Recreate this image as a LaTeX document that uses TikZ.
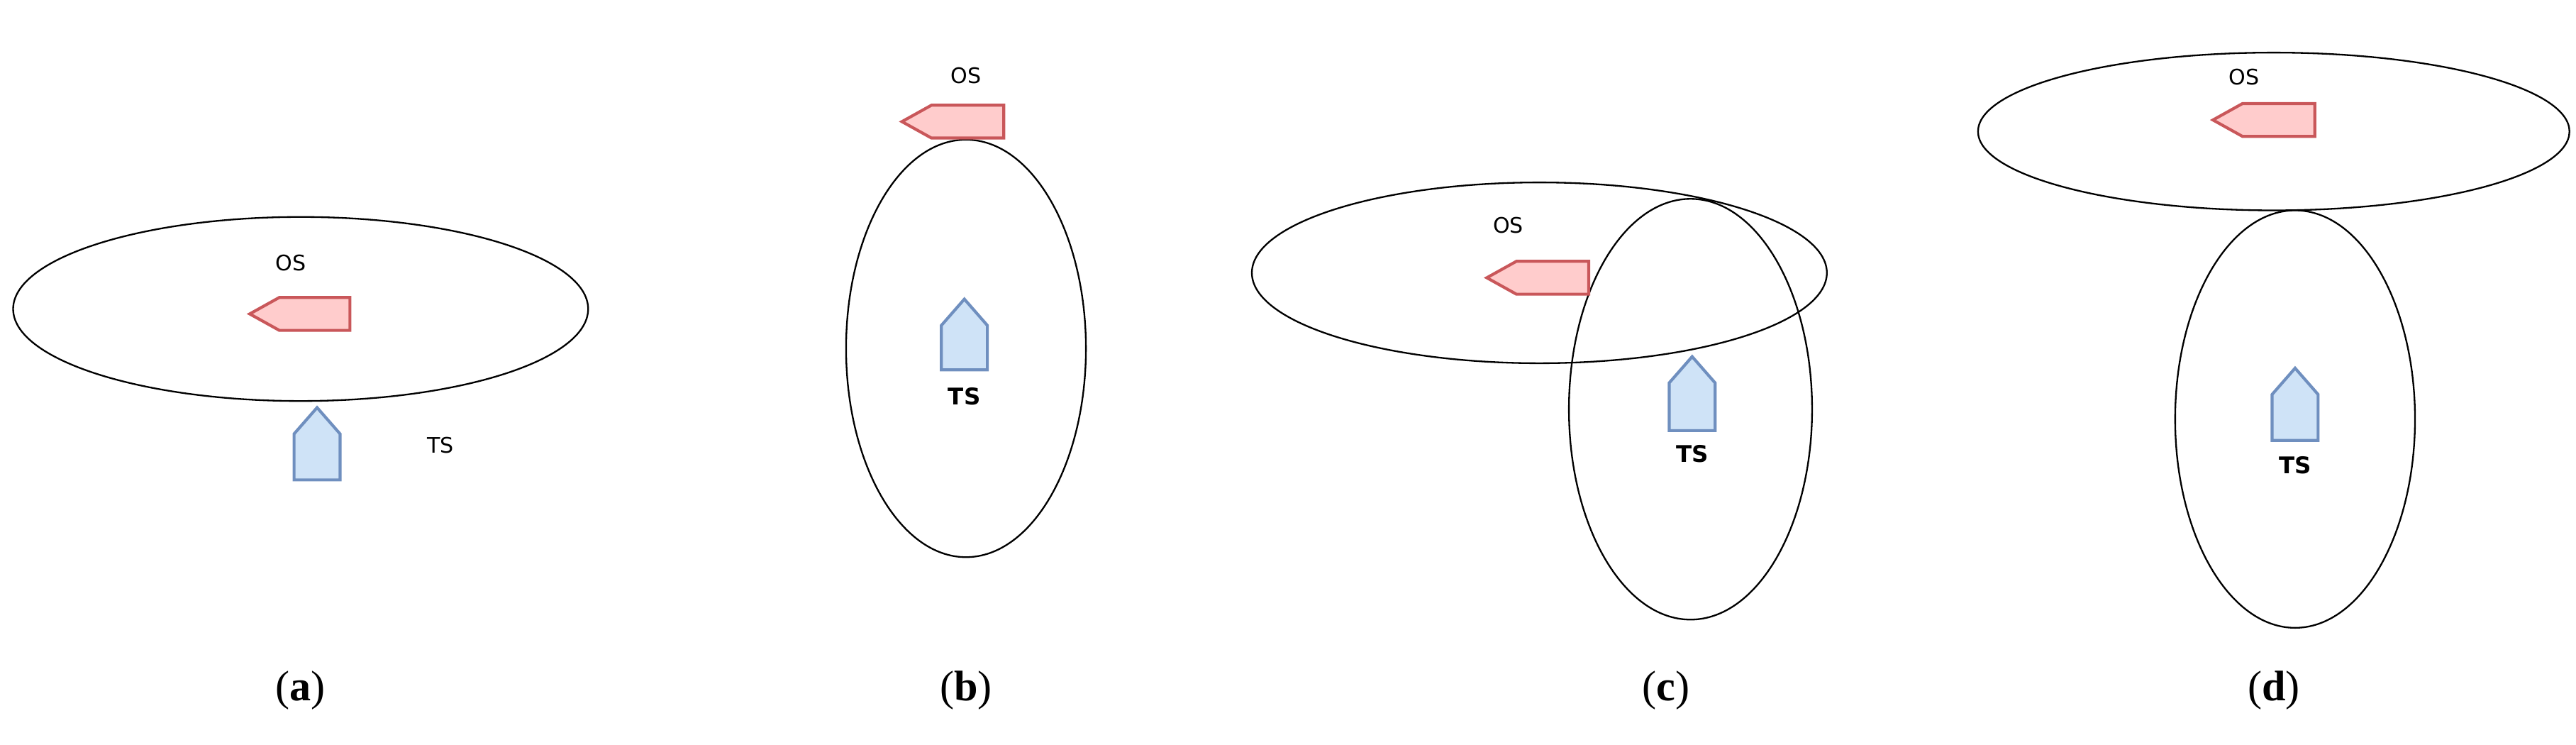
\documentclass[tikz,border=0pt]{standalone}
\usepackage{fontspec}
\setmainfont{Liberation Serif}
\newfontfamily\lblfont{DejaVu Sans}
\definecolor{osfill}{HTML}{FFCCCC}
\definecolor{osdraw}{HTML}{C9575A}
\definecolor{tsfill}{HTML}{CFE3F7}
\definecolor{tsdraw}{HTML}{6F8FBF}
\tikzset{
  zone/.style={draw=black, line width=1pt},
  osboat/.style={draw=osdraw, fill=osfill, line width=1.8pt, line join=miter},
  tsboat/.style={draw=tsdraw, fill=tsfill, line width=1.8pt, line join=miter},
  shiplbl/.style={font=\lblfont\fontsize{13}{13}\selectfont},
  shiplblb/.style={font=\lblfont\bfseries\fontsize{14}{14}\selectfont},
  caption/.style={font=\fontsize{26}{26}\selectfont}
}
\newcommand\drawos[3]{\draw[osboat] (#1,#2) -- (#1+18,#2-10) -- (#3,#2-10) -- (#3,#2+10) -- (#1+18,#2+10) -- cycle;}
\newcommand\drawts[3]{\draw[tsboat] (#1,#2) -- (#1+14,#2+16) -- (#1+14,#3) -- (#1-14,#3) -- (#1-14,#2+16) -- cycle;}
\begin{document}
\begin{tikzpicture}[x=1pt,y=-1pt]
\useasboundingbox (0,0) rectangle (1568,453);
\fill[white] (0,0) rectangle (1568,453);
% (a)
\draw[zone] (183,188) ellipse [x radius=175, y radius=56];
\node[shiplbl] (osa) at (177,160) {OS};
\drawos{152}{191}{213}
\drawts{193}{248}{292}
\node[shiplbl] (tsa) at (268,271) {TS};
\node[caption] (capa) at (183,420) {(\textbf{a})};
% (b)
\draw[zone] (588,212) ellipse [x radius=73, y radius=127];
\node[shiplbl] (osb) at (588,46) {OS};
\drawos{549}{74}{611}
\drawts{587}{182}{225}
\node[shiplblb] (tsb) at (587,241) {TS};
\node[caption] (capb) at (588,420) {(\textbf{b})};
% (c)
\draw[zone] (937,166) ellipse [x radius=175, y radius=55];
\draw[zone] (1029,249) ellipse [x radius=74, y radius=128];
\node[shiplbl] (osc) at (918,137) {OS};
\drawos{905}{169}{967}
\drawts{1030}{217}{262}
\node[shiplblb] (tsc) at (1030,276) {TS};
\node[caption] (capc) at (1014,420) {(\textbf{c})};
% (d)
\draw[zone] (1384,80) ellipse [x radius=180, y radius=48];
\draw[zone] (1397,255) ellipse [x radius=73, y radius=127];
\node[shiplbl] (osd) at (1366,47) {OS};
\drawos{1347}{73}{1409}
\drawts{1397}{224}{268}
\node[shiplblb] (tsd) at (1397,283) {TS};
\node[caption] (capd) at (1384,420) {(\textbf{d})};
\end{tikzpicture}
\end{document}
